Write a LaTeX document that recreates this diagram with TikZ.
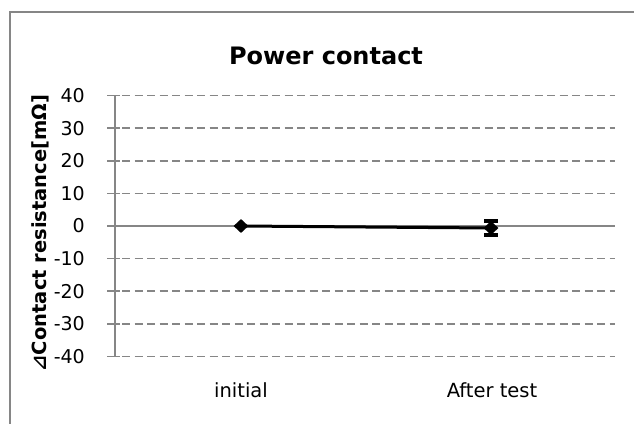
\documentclass[tikz,border=0pt]{standalone}
\usepackage{fontspec}
\setmainfont{DejaVu Sans}
\usetikzlibrary{shapes, positioning}

\definecolor{chartgray}{RGB}{134,134,134}

\tikzset{
  grid line/.style={draw=chartgray, line width=1.5pt, dash pattern=on 8pt off 4.5pt},
  axis line/.style={draw=chartgray, line width=1.5pt},
  tick label/.style={anchor=east, inner sep=0pt, font=\fontsize{19}{21}\selectfont},
  cat label/.style={inner sep=0pt, font=\fontsize{19.5}{21}\selectfont},
  marker/.style={diamond, fill=black, inner sep=0pt, minimum width=15pt, minimum height=14pt},
  data line/.style={draw=black, line width=3pt},
}

\begin{document}
\begin{tikzpicture}[x=1pt, y=-1pt]
\useasboundingbox (0,0) rectangle (634,423);

%% chart frame
\draw[draw=chartgray, line width=1.5pt] (10,12) rectangle (660,450);

%% title
\node[font=\bfseries\fontsize{24}{27}\selectfont] (title) at (326,56) {Power contact};

%% grid lines
\draw[grid line] (122, 95.6) -- (615, 95.6);
\draw[grid line] (122,128.2) -- (615,128.2);
\draw[grid line] (122,160.8) -- (615,160.8);
\draw[grid line] (122,193.4) -- (615,193.4);
\draw[grid line] (122,258.6) -- (615,258.6);
\draw[grid line] (122,291.2) -- (615,291.2);
\draw[grid line] (122,323.8) -- (615,323.8);
\draw[grid line] (122,356.4) -- (615,356.4);

%% axes and tick marks
\draw[axis line] (107,226) -- (615,226);
\draw[axis line] (115,95.6) -- (115,356.4);
\draw[axis line] (107, 95.6) -- (120, 95.6);
\draw[axis line] (107,128.2) -- (120,128.2);
\draw[axis line] (107,160.8) -- (120,160.8);
\draw[axis line] (107,193.4) -- (120,193.4);
\draw[axis line] (107,258.6) -- (120,258.6);
\draw[axis line] (107,291.2) -- (120,291.2);
\draw[axis line] (107,323.8) -- (120,323.8);
\draw[axis line] (107,356.4) -- (120,356.4);

%% place y axis label
\node[tick label] (t40)  at (85, 95.6) {40};
\node[tick label] (t30)  at (85,128.2) {30};
\node[tick label] (t20)  at (85,160.8) {20};
\node[tick label] (t10)  at (85,193.4) {10};
\node[tick label] (t0)   at (85,226)   {0};
\node[tick label] (tm10) at (85,258.6) {-10};
\node[tick label] (tm20) at (85,291.2) {-20};
\node[tick label] (tm30) at (85,323.8) {-30};
\node[tick label] (tm40) at (85,356.4) {-40};

\node[rotate=90, inner sep=0pt, font=\bfseries\fontsize{19.5}{21}\selectfont] (ylabel) at (40,233) {⊿Contact resistance[mΩ]};

%% place x axis label
\node[cat label] (initial) at (241,390) {initial};
\node[cat label] (after)   at (492,390) {After test};

% data
\coordinate (v1) at (241,226);
\coordinate (v2) at (491,228);
\draw[data line] (v1) -- (v2);
% error bar
\draw[line width=3pt] (491,221) -- (491,235);
\draw[line width=4pt] (484,221) -- (498,221);
\draw[line width=4pt] (484,235) -- (498,235);
\node[marker] (p1) at (v1) {};
\node[marker] (p2) at (v2) {};

\end{tikzpicture}
\end{document}
